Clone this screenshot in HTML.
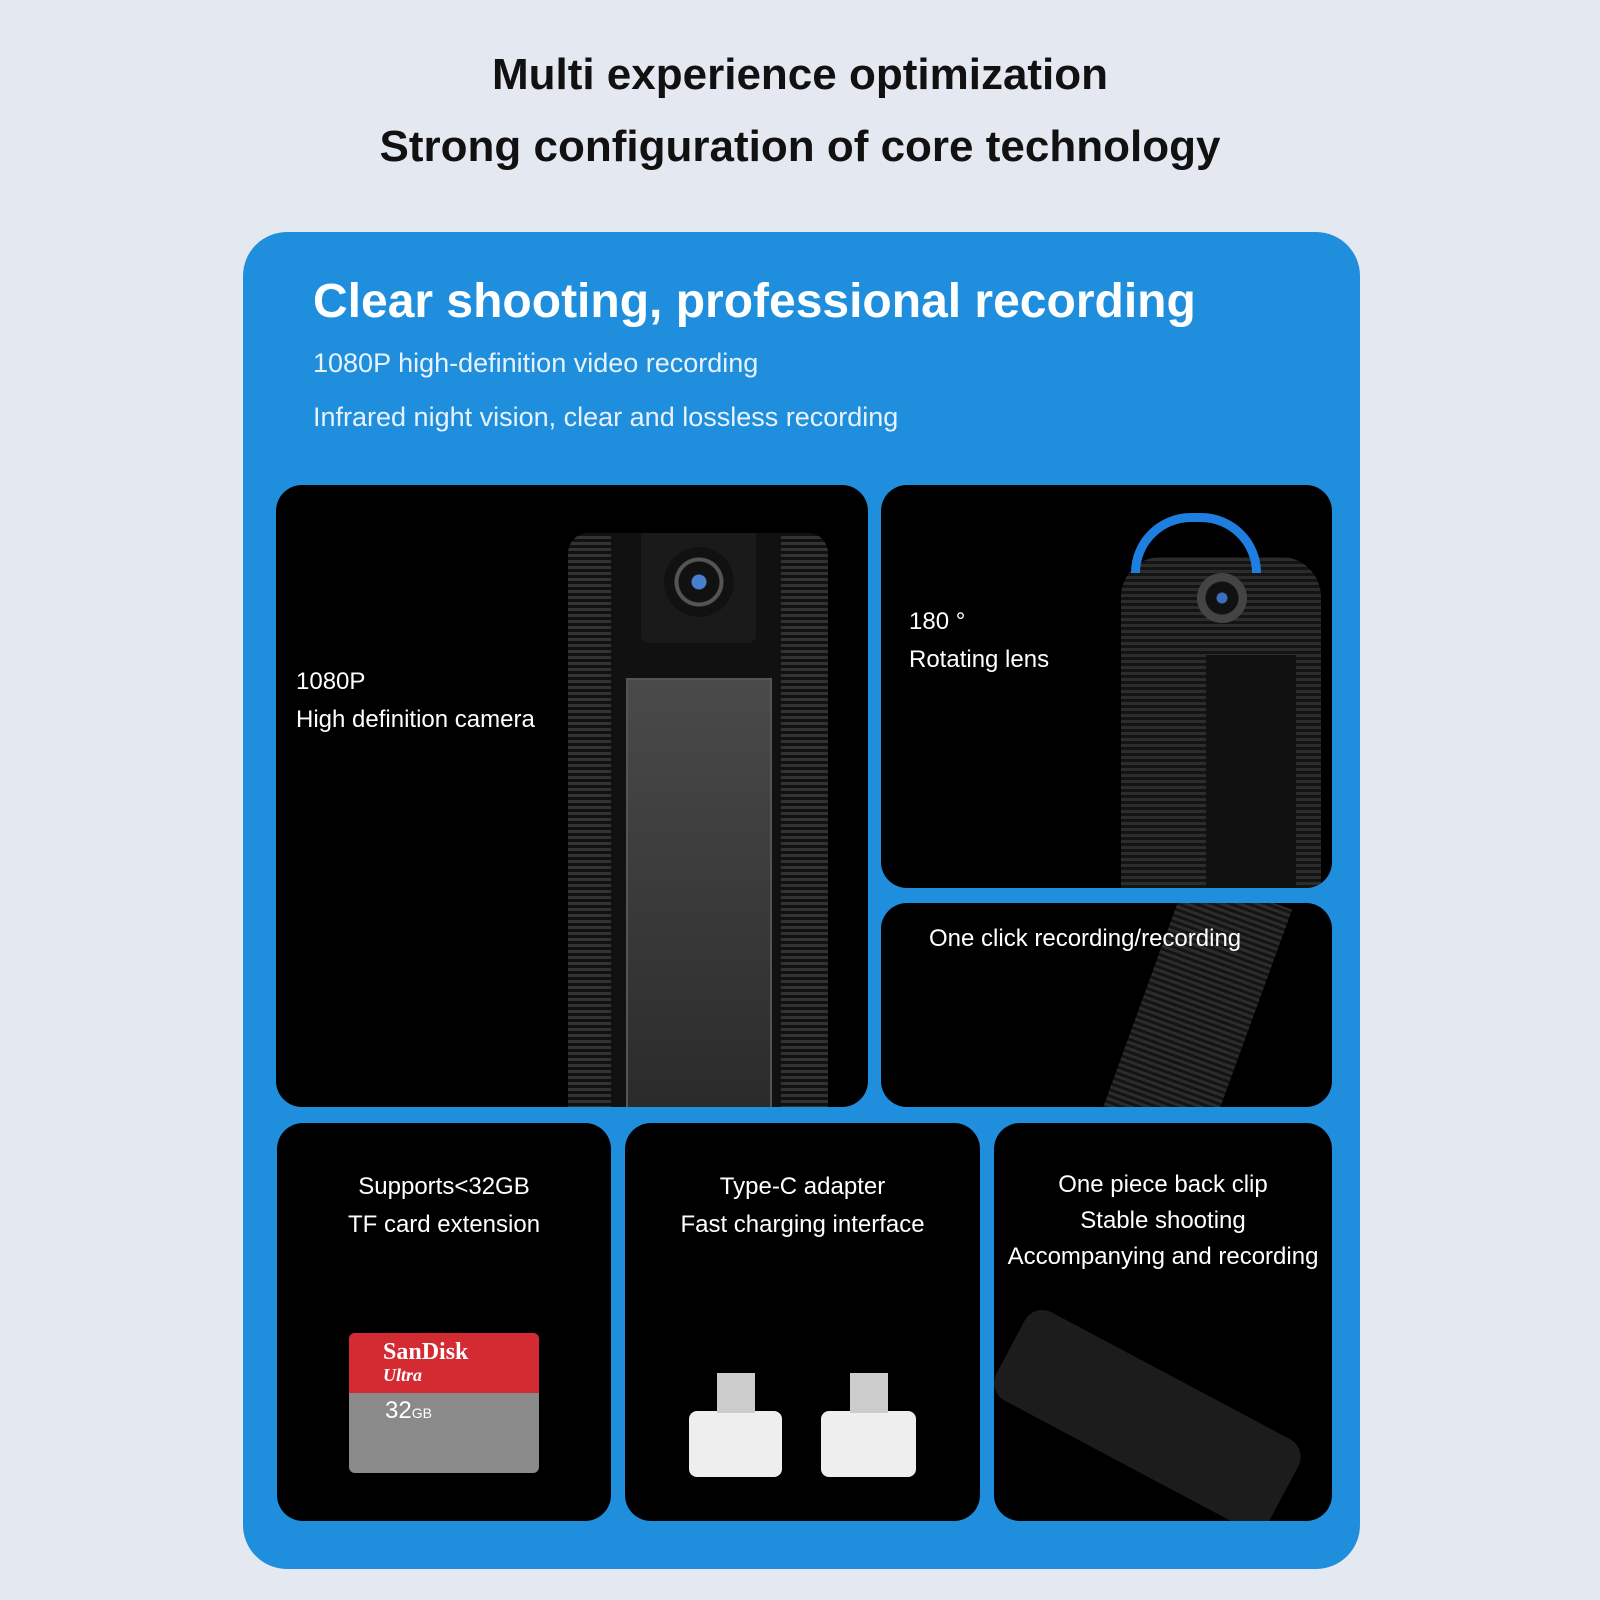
<!DOCTYPE html>
<html><head><meta charset="utf-8"><style>
*{margin:0;padding:0;box-sizing:border-box}
body{width:1600px;height:1600px;background:#e4e8f1;position:relative;overflow:hidden;font-family:"Liberation Sans",sans-serif}
.t{position:absolute;left:0;width:1600px;text-align:center;font-weight:bold;font-size:44px;color:#111}
.panel{position:absolute;left:243px;top:232px;width:1117px;height:1337px;background:#1f8fdd;border-radius:44px}
.b{position:absolute;background:#000;border-radius:26px;overflow:hidden}
.w{position:absolute;color:#fff;font-size:24px;line-height:38px}
.c{text-align:center}
</style></head><body>
<div class="t" style="top:50px">Multi experience optimization</div>
<div class="t" style="top:122px">Strong configuration of core technology</div>
<div class="panel"></div>
<div class="w" style="left:313px;top:272px;font-size:48px;font-weight:bold;line-height:60px">Clear shooting, professional recording</div>
<div class="w" style="left:313px;top:344px;font-size:27px;color:#e8f2ff">1080P high-definition video recording</div>
<div class="w" style="left:313px;top:398px;font-size:27px;color:#e8f2ff">Infrared night vision, clear and lossless recording</div>

<div class="b" style="left:276px;top:485px;width:592px;height:622px">
 <div class="w" style="left:20px;top:178px">1080P<br>High definition camera</div>
 <div style="position:absolute;left:292px;top:48px;width:260px;height:600px;background:repeating-linear-gradient(0deg,#333 0 3px,#111 3px 6px),#222;border-radius:20px 20px 0 0"></div>
 <div style="position:absolute;left:335px;top:48px;width:170px;height:600px;background:#111"></div>
 <div style="position:absolute;left:365px;top:48px;width:115px;height:110px;background:#1a1a1a;border-radius:0 0 8px 8px"></div>
 <div style="position:absolute;left:388px;top:62px;width:70px;height:70px;border-radius:50%;background:radial-gradient(circle,#4a7fd0 0 7px,#111 8px 20px,#555 21px 24px,#111 25px)"></div>
 <div style="position:absolute;left:350px;top:193px;width:146px;height:440px;background:linear-gradient(180deg,#4a4a4a,#2a2a2a);border:2px solid #555"></div>
</div>

<div class="b" style="left:881px;top:485px;width:451px;height:403px">
 <div class="w" style="left:28px;top:118px">180 °<br>Rotating lens</div>
 <div style="position:absolute;left:240px;top:72px;width:200px;height:340px;background:repeating-linear-gradient(0deg,#2c2c2c 0 3px,#141414 3px 6px);border-radius:40px 40px 0 0"></div>
 <div style="position:absolute;left:325px;top:170px;width:90px;height:240px;background:#111"></div>
 <div style="position:absolute;left:316px;top:88px;width:50px;height:50px;border-radius:50%;background:radial-gradient(circle,#3d6fc0 0 5px,#111 6px 16px,#444 17px)"></div>
 <div style="position:absolute;left:250px;top:28px;width:130px;height:60px;border:9px solid #1f7fe0;border-bottom:none;border-radius:65px 65px 0 0"></div>
</div>

<div class="b" style="left:881px;top:903px;width:451px;height:204px">
 <div style="position:absolute;left:260px;top:-20px;width:110px;height:260px;background:repeating-linear-gradient(0deg,#2c2c2c 0 3px,#141414 3px 6px);transform:rotate(20deg)"></div>
 <div class="w" style="left:48px;top:17px">One click recording/recording</div>
</div>

<div class="b" style="left:277px;top:1123px;width:334px;height:398px">
 <div class="w c" style="left:0;width:334px;top:45px">Supports&lt;32GB<br>TF card extension</div>
 <div style="position:absolute;left:72px;top:210px;width:190px;height:140px;background:#8a8a8a;border-radius:6px;overflow:hidden">
  <div style="height:60px;background:#d42a32;color:#fff;font-family:'Liberation Serif',serif;font-size:24px;font-weight:bold;padding:8px 34px;line-height:22px">SanDisk<br><i style="font-size:18px">Ultra</i></div>
  <div style="color:#fff;font-size:24px;padding:4px 36px">32<span style="font-size:14px">GB</span></div>
 </div>
</div>

<div class="b" style="left:625px;top:1123px;width:355px;height:398px">
 <div class="w c" style="left:0;width:355px;top:45px">Type-C adapter<br>Fast charging interface</div>
 <div style="position:absolute;left:64px;top:288px;width:93px;height:66px;background:#eee;border-radius:8px"></div>
 <div style="position:absolute;left:92px;top:250px;width:38px;height:40px;background:#ccc"></div>
 <div style="position:absolute;left:196px;top:288px;width:95px;height:66px;background:#eee;border-radius:8px"></div>
 <div style="position:absolute;left:225px;top:250px;width:38px;height:40px;background:#ccc"></div>
</div>

<div class="b" style="left:994px;top:1123px;width:338px;height:398px">
 <div class="w c" style="left:0;width:338px;top:44px;line-height:36px">One piece back clip<br>Stable shooting<br>Accompanying and recording</div>
 <div style="position:absolute;left:20px;top:240px;width:310px;height:100px;background:#1c1c1c;border-radius:20px;transform:rotate(28deg);transform-origin:0 0;left:40px;top:180px"></div>
</div>
</body></html>
